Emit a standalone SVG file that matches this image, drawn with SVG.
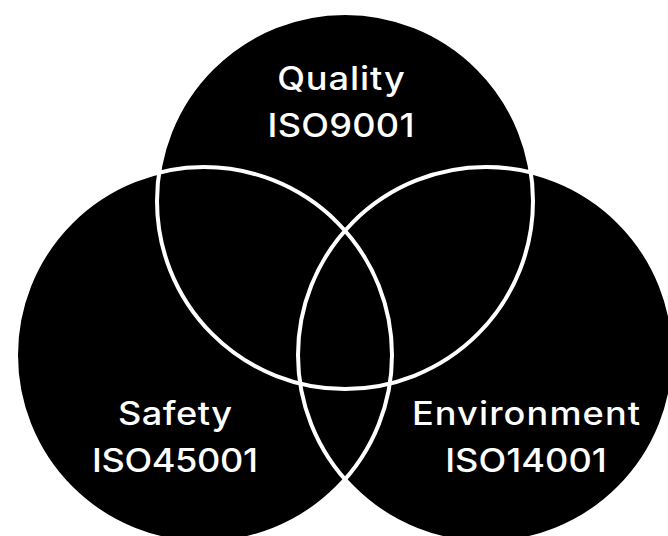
<svg xmlns="http://www.w3.org/2000/svg" width="668" height="536" viewBox="0 0 668 536">
<style>
.fill{fill:#000;stroke:none}
.ring{fill:none;stroke:#fff;stroke-width:4}
.lbl{fill:#fff;font-family:Inter,"Liberation Sans",sans-serif;font-size:32px;font-weight:500;text-anchor:middle}
</style>
<rect width="668" height="536" fill="#fff"/>
<g id="quality"><circle class="fill" cx="345" cy="201" r="188"/></g>
<g id="safety"><circle class="fill" cx="204" cy="355" r="188"/></g>
<g id="environment"><circle class="fill" cx="486" cy="355" r="188"/></g>
<g id="outlines">
<circle class="ring" cx="345" cy="201" r="188"/>
<circle class="ring" cx="204" cy="355" r="188"/>
<circle class="ring" cx="486" cy="355" r="188"/>
</g>
<g id="labels">
<text class="lbl" transform="translate(341 90) scale(1.13 1)" textLength="113">Quality</text>
<text class="lbl" transform="translate(341 137) scale(1.13 1)" textLength="130">ISO9001</text>
<text class="lbl" transform="translate(175 425) scale(1.13 1)" textLength="101">Safety</text>
<text class="lbl" transform="translate(175 472) scale(1.13 1)" textLength="147">ISO45001</text>
<text class="lbl" transform="translate(526 425) scale(1.13 1)" textLength="202">Environment</text>
<text class="lbl" transform="translate(526 472) scale(1.13 1)" textLength="143">ISO14001</text>
</g>
</svg>
